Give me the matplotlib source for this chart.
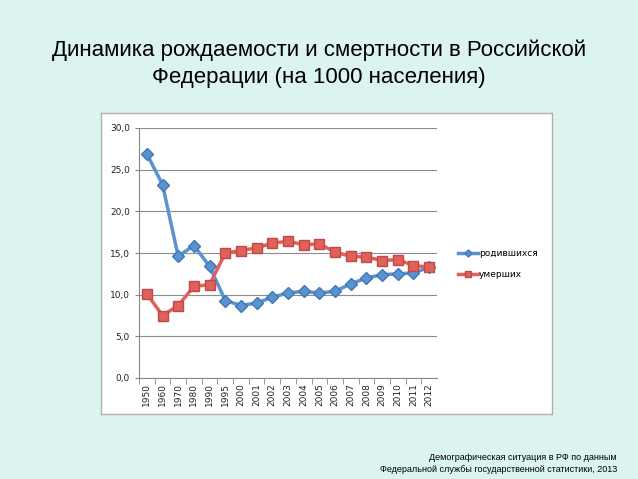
import matplotlib
matplotlib.use("Agg")
from matplotlib import pyplot as plt

years = ["1950", "1960", "1970", "1980", "1990", "1995", "2000", "2001", "2002", "2003",
         "2004", "2005", "2006", "2007", "2008", "2009", "2010", "2011", "2012"]
born = [26.9, 23.2, 14.6, 15.9, 13.4, 9.3, 8.7, 9.0, 9.7, 10.2,
        10.4, 10.2, 10.4, 11.3, 12.0, 12.4, 12.5, 12.6, 13.3]
died = [10.1, 7.5, 8.7, 11.0, 11.2, 15.0, 15.3, 15.6, 16.2, 16.4,
        16.0, 16.1, 15.1, 14.6, 14.5, 14.1, 14.2, 13.5, 13.3]

bg = "#dcf4f0"
blue = "#5a93d0"
red = "#e0605a"

fig = plt.figure(figsize=(6.38, 4.79), dpi=100, facecolor=bg)

# white chart box behind the plot
box = fig.add_axes([101 / 638, 1 - 414 / 479, 451 / 638, 301 / 479], zorder=0)
box.set_facecolor("white")
box.set_xticks([])
box.set_yticks([])
for s in box.spines.values():
    s.set_color("#b0b0b0")
    s.set_linewidth(1.0)

fig.text(0.5, 1 - 50 / 479, "Динамика рождаемости и смертности в Российской",
         ha="center", va="center", fontsize=16, family="Liberation Sans")
fig.text(0.5, 1 - 77 / 479, "Федерации (на 1000 населения)",
         ha="center", va="center", fontsize=16, family="Liberation Sans")

ax = fig.add_axes([139 / 638, 1 - 378 / 479, 298 / 638, 250 / 479], zorder=1)
ax.set_facecolor("white")
x = list(range(len(years)))
ax.plot(x, born, color=blue, lw=2.5, marker="D", ms=6, mfc=blue, mec="#3f78b5",
        label="родившихся", zorder=3)
ax.plot(x, died, color=red, lw=2.5, marker="s", ms=7, mfc=red, mec="#c04a45",
        label="умерших", zorder=3)

ax.set_xlim(-0.5, len(years) - 0.5)
ax.set_ylim(0, 30)
ax.set_yticks([0, 5, 10, 15, 20, 25, 30])
ax.set_yticklabels(["0,0", "5,0", "10,0", "15,0", "20,0", "25,0", "30,0"])
ax.set_xticks(x)
ax.set_xticklabels(years, rotation=90)
ax.tick_params(axis="both", labelsize=6.5, length=3, color="#888888", colors="#222222")
ax.set_xticks([i + 0.5 for i in x[:-1]] + [-0.5], minor=True)
ax.tick_params(axis="x", which="major", length=0)
ax.tick_params(axis="x", which="minor", length=4, color="#888888")
ax.grid(axis="y", color="#8c8c8c", lw=0.8)
ax.set_axisbelow(True)
for s in ["top", "right"]:
    ax.spines[s].set_visible(False)
ax.spines["left"].set_color("#888888")
ax.spines["bottom"].set_color("#888888")

leg = fig.legend(loc="center left", bbox_to_anchor=(450 / 638, 1 - 264 / 479), frameon=False,
                 fontsize=6.5, handlelength=2.2, labelspacing=1.4, handletextpad=0.1,
                 markerscale=0.6)
leg.set_zorder(5)

fig.text(617 / 638, 1 - 457 / 479, "Демографическая ситуация в РФ по данным",
         ha="right", va="center", fontsize=6.5, family="Liberation Sans")
fig.text(617 / 638, 1 - 470 / 479, "Федеральной службы государственной статистики, 2013",
         ha="right", va="center", fontsize=6.5, family="Liberation Sans")

fig.savefig("out.png", dpi=100, facecolor=bg)
